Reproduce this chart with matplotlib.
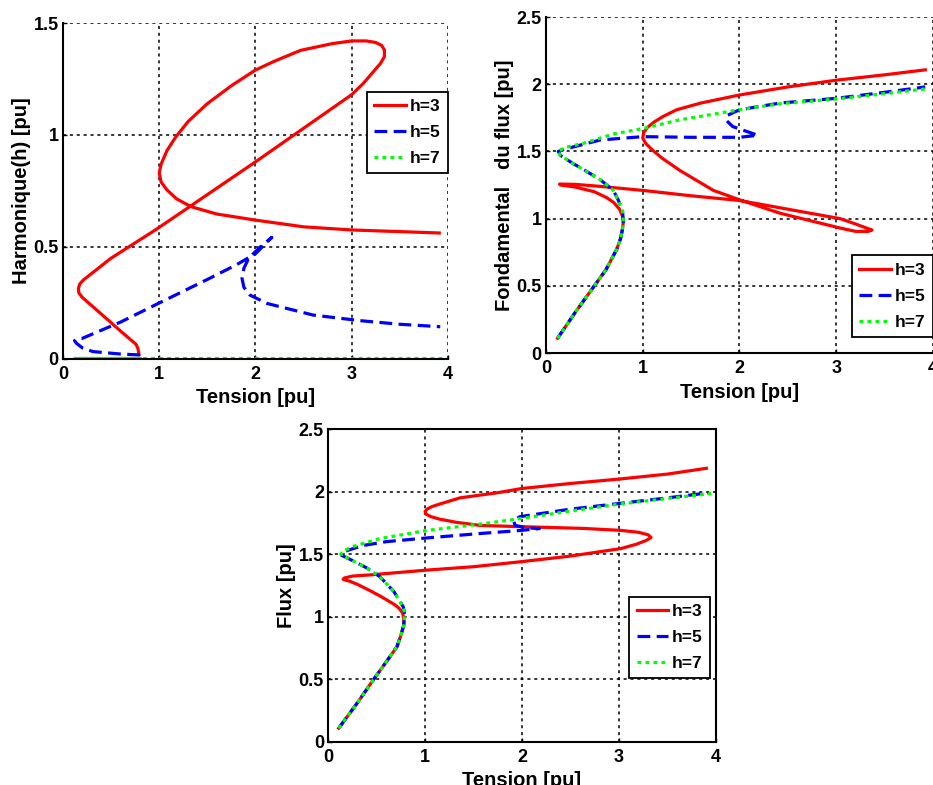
import matplotlib
matplotlib.use("Agg")
import matplotlib.pyplot as plt

plt.rcParams['font.family'] = ['Liberation Sans', 'DejaVu Sans']
plt.rcParams['font.weight'] = 'bold'
plt.rcParams['axes.labelweight'] = 'bold'

labels = ['h=3', 'h=5', 'h=7']

# Harmonique(h) vs tension
harm_h3_x = [0.79, 0.78, 0.76, 0.6, 0.4, 0.2, 0.165, 0.16, 0.175, 0.21, 0.5, 0.96, 1.33, 2.0, 2.5, 3.0,
             3.12, 3.22, 3.3, 3.34, 3.34, 3.31, 3.25, 3.15, 3.0, 2.8, 2.47, 2.2, 2.0, 1.75, 1.5, 1.3,
             1.17, 1.08, 1.02, 1.0, 1.02, 1.08, 1.18, 1.33, 1.6, 2.0, 2.5, 3.0, 3.91]
harm_h3_y = [0.02, 0.045, 0.065, 0.124, 0.2, 0.275, 0.295, 0.315, 0.335, 0.352, 0.45, 0.576, 0.684, 0.88, 1.03, 1.18,
             1.23, 1.28, 1.32, 1.35, 1.38, 1.40, 1.413, 1.42, 1.42, 1.408, 1.378, 1.33, 1.29, 1.22, 1.14, 1.06,
             0.99, 0.93, 0.87, 0.83, 0.79, 0.755, 0.715, 0.68, 0.647, 0.62, 0.59, 0.576, 0.5625]
harm_h5_x = [0.8, 0.6, 0.31, 0.2, 0.14, 0.12, 0.15, 0.2, 0.6, 1.0, 1.5, 1.8, 2.0, 2.17,
             2.05, 1.93, 1.88, 1.86, 1.88, 1.94, 2.12, 2.6, 3.09, 3.5, 3.92]
harm_h5_y = [0.018, 0.022, 0.033, 0.05, 0.07, 0.082, 0.09, 0.092, 0.165, 0.25, 0.355, 0.42, 0.47, 0.543,
             0.5, 0.45, 0.405, 0.36, 0.32, 0.286, 0.248, 0.196, 0.171, 0.155, 0.144]
harm_h7_x = [0.1, 0.8, 0.12, 1.0, 2.0, 3.0, 3.95]
harm_h7_y = [0.006, 0.006, 0.006, 0.006, 0.006, 0.006, 0.006]

# Fondamental du flux vs tension
fond_h3_x = [0.12, 0.3, 0.49, 0.62, 0.73, 0.77, 0.79, 0.8, 0.79, 0.76, 0.7, 0.63, 0.5, 0.3, 0.15, 0.14,
             0.3, 0.56, 1.0, 1.5, 2.0, 2.5, 3.04, 3.2, 3.33, 3.37, 3.33, 3.2, 3.04, 2.42, 2.0, 1.73,
             1.38, 1.2, 1.1, 1.03, 1.0, 1.01, 1.05, 1.12, 1.21, 1.35, 1.6, 2.0, 2.5, 3.0, 3.5, 3.92]
fond_h3_y = [0.11, 0.3, 0.49, 0.62, 0.77, 0.85, 0.92, 0.98, 1.02, 1.07, 1.12, 1.155, 1.2, 1.235, 1.25, 1.257,
             1.255, 1.24, 1.21, 1.17, 1.135, 1.07, 1.0, 0.96, 0.925, 0.915, 0.905, 0.905, 0.93, 1.04, 1.14, 1.21,
             1.36, 1.45, 1.51, 1.56, 1.6, 1.64, 1.68, 1.72, 1.76, 1.81, 1.86, 1.92, 1.98, 2.03, 2.07, 2.107]
fond_h5_x = [0.12, 0.3, 0.49, 0.62, 0.73, 0.77, 0.79, 0.8, 0.79, 0.74, 0.695, 0.56, 0.4, 0.28, 0.15, 0.127,
             0.21, 0.56, 1.0, 1.5, 2.0, 2.19, 2.07, 1.93, 1.865, 1.88, 2.0, 2.42, 3.0, 3.5, 3.92]
fond_h5_y = [0.11, 0.3, 0.49, 0.62, 0.77, 0.85, 0.92, 0.98, 1.06, 1.15, 1.21, 1.29, 1.36, 1.41, 1.47, 1.5,
             1.52, 1.585, 1.61, 1.605, 1.605, 1.62, 1.65, 1.685, 1.73, 1.77, 1.81, 1.86, 1.895, 1.94, 1.98]
fond_h7_x = [0.12, 0.3, 0.49, 0.62, 0.73, 0.77, 0.79, 0.8, 0.79, 0.74, 0.695, 0.56, 0.4, 0.28, 0.15, 0.12,
             0.2, 0.385, 0.7, 1.0, 1.38, 2.0, 2.42, 3.0, 3.5, 3.92]
fond_h7_y = [0.11, 0.3, 0.49, 0.62, 0.77, 0.85, 0.92, 0.98, 1.06, 1.15, 1.21, 1.29, 1.36, 1.41, 1.47, 1.5,
             1.53, 1.56, 1.63, 1.67, 1.735, 1.81, 1.855, 1.89, 1.93, 1.965]

# Flux vs tension
flux_h3_x = [0.11, 0.3, 0.47, 0.6, 0.71, 0.75, 0.78, 0.78, 0.77, 0.73, 0.68, 0.55, 0.43, 0.3, 0.22, 0.17,
             0.155, 0.17, 0.25, 0.44, 1.02, 1.5, 1.99, 2.5, 3.02, 3.18, 3.28, 3.33, 3.3, 3.2, 3.02, 2.63,
             1.98, 1.565, 1.32, 1.15, 1.06, 1.01, 1.0, 1.02, 1.07, 1.15, 1.36, 1.74, 2.0, 2.5, 3.0, 3.5, 3.9]
flux_h3_y = [0.11, 0.31, 0.5, 0.64, 0.76, 0.85, 0.93, 0.98, 1.03, 1.07, 1.1, 1.16, 1.21, 1.26, 1.285, 1.295,
             1.3, 1.31, 1.325, 1.335, 1.373, 1.4, 1.44, 1.485, 1.545, 1.58, 1.61, 1.633, 1.655, 1.675, 1.69, 1.706,
             1.72, 1.73, 1.755, 1.78, 1.8, 1.82, 1.84, 1.86, 1.88, 1.9, 1.95, 1.99, 2.025, 2.065, 2.1, 2.14, 2.186]
flux_h5_x = [0.11, 0.3, 0.47, 0.6, 0.71, 0.75, 0.78, 0.79, 0.775, 0.68, 0.535, 0.4, 0.25, 0.17, 0.14, 0.15,
             0.2, 0.365, 0.6, 1.02, 1.565, 1.99, 2.18, 2.05, 1.93, 1.91, 1.98, 2.5, 3.0, 3.5, 3.92]
flux_h5_y = [0.11, 0.31, 0.5, 0.64, 0.76, 0.85, 0.93, 1.02, 1.08, 1.2, 1.32, 1.39, 1.45, 1.48, 1.49, 1.51,
             1.53, 1.57, 1.6, 1.63, 1.665, 1.69, 1.705, 1.71, 1.73, 1.77, 1.8, 1.86, 1.905, 1.95, 1.99]
flux_h7_x = [0.11, 0.3, 0.47, 0.6, 0.71, 0.75, 0.78, 0.79, 0.775, 0.68, 0.535, 0.4, 0.25, 0.16, 0.13,
             0.16, 0.25, 0.535, 1.02, 1.565, 1.99, 2.5, 3.0, 3.5, 3.95]
flux_h7_y = [0.11, 0.31, 0.5, 0.64, 0.76, 0.85, 0.93, 1.02, 1.08, 1.2, 1.32, 1.39, 1.45, 1.485, 1.5,
             1.525, 1.56, 1.625, 1.69, 1.74, 1.785, 1.845, 1.9, 1.945, 1.985]

styles = [
    dict(color='#ff0000', linestyle='-'),
    dict(color='#0000ff', linestyle=(0, (4, 2))),
    dict(color='#00ff00', linestyle=(0, (1.2, 1.3))),
]


def draw_panel(ax, series, ylim, yticks, ylabel, legend_loc, legend_anchor, box=False):
    for (x, y), st, lab in zip(series, styles, labels):
        ax.plot(x, y, linewidth=2.3, label=lab, solid_joinstyle='round', **st)
    ax.set_xlim(0, 4)
    ax.set_ylim(*ylim)
    ax.set_xticks([0, 1, 2, 3, 4])
    ax.set_xticklabels(['0', '1', '2', '3', '4'])
    ax.set_yticks(yticks)
    ax.set_yticklabels([('%g' % t) for t in yticks])
    ax.grid(True, color='black', linestyle=(0, (2, 2.5)), linewidth=1.1)
    ax.tick_params(direction='in', length=3, labelsize=13, width=1)
    ax.tick_params(axis='x', pad=5)
    ax.tick_params(axis='y', pad=3)
    for side in ['left', 'bottom']:
        ax.spines[side].set_linewidth(1.5)
    for side in ['top', 'right']:
        ax.spines[side].set_visible(box)
        ax.spines[side].set_linewidth(1.5)
    ax.set_xlabel('Tension [pu]', fontsize=14.5, labelpad=4)
    ax.set_ylabel(ylabel, fontsize=14.5, labelpad=2)
    leg = ax.legend(loc=legend_loc, bbox_to_anchor=legend_anchor, borderaxespad=0,
                    fancybox=False, framealpha=1, edgecolor='black', fontsize=12.5,
                    handlelength=1.8, handletextpad=0.25, labelspacing=0.62,
                    borderpad=0.42)
    leg.get_frame().set_linewidth(1.3)
    for t in leg.get_texts():
        t.set_fontweight('bold')


fig = plt.figure(figsize=(9.33, 7.85), dpi=100)

ax1 = fig.add_axes([0.0675, 0.5427, 0.4126, 0.428])
draw_panel(ax1, [(harm_h3_x, harm_h3_y), (harm_h5_x, harm_h5_y), (harm_h7_x, harm_h7_y)],
           (0, 1.5), [0, 0.5, 1, 1.5], 'Harmonique(h) [pu]',
           'upper right', (1.0, 0.795))

ax2 = fig.add_axes([0.5852, 0.5503, 0.4148, 0.428])
draw_panel(ax2, [(fond_h3_x, fond_h3_y), (fond_h5_x, fond_h5_y), (fond_h7_x, fond_h7_y)],
           (0, 2.5), [0, 0.5, 1, 1.5, 2, 2.5], 'Fondamental   du flux [pu]',
           'lower right', (1.0, 0.048))

ax3 = fig.add_axes([0.3516, 0.0548, 0.4159, 0.3987])
draw_panel(ax3, [(flux_h3_x, flux_h3_y), (flux_h5_x, flux_h5_y), (flux_h7_x, flux_h7_y)],
           (0, 2.5), [0, 0.5, 1, 1.5, 2, 2.5], 'Flux [pu]',
           'lower right', (0.985, 0.204), box=True)

fig.savefig('out.png', dpi=100)
